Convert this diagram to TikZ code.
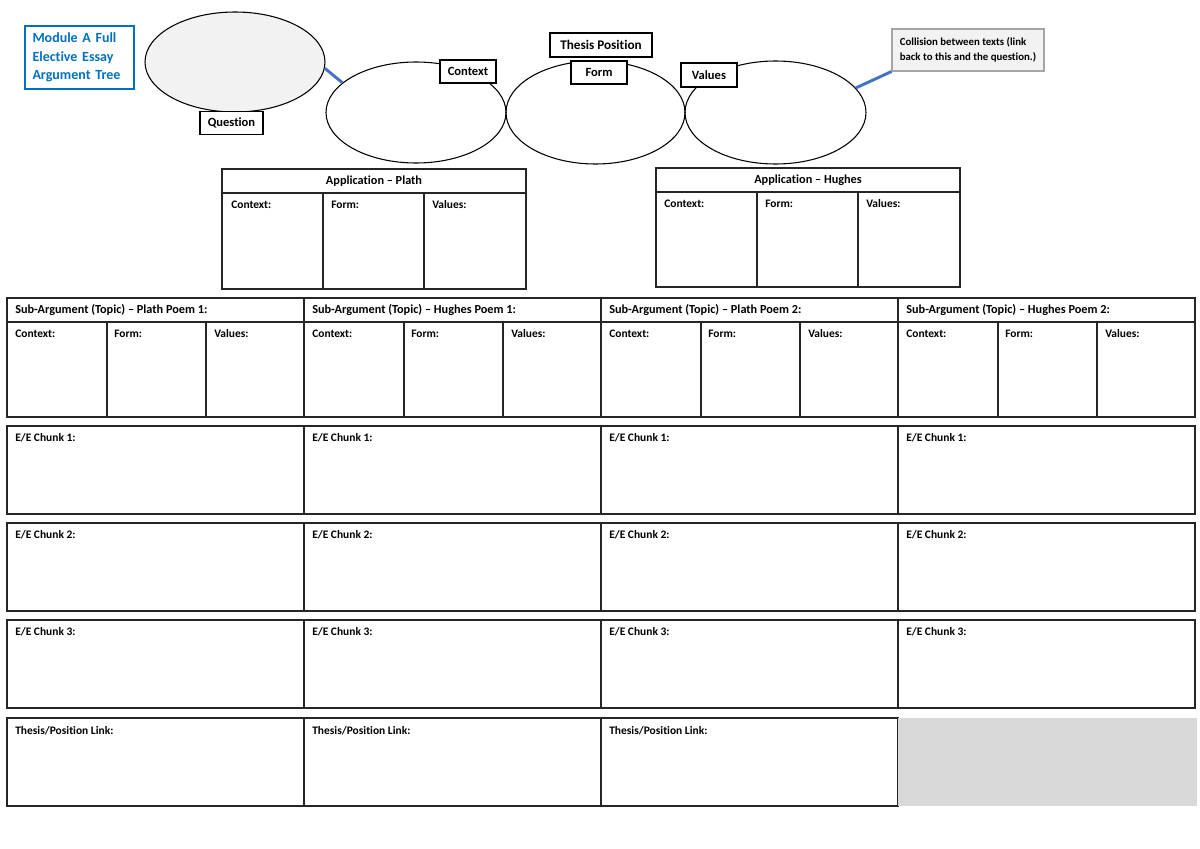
\documentclass[tikz,border=0pt]{standalone}
\usepackage{fontspec}
\setmainfont{Carlito}[Ligatures={NoCommon}]
\usetikzlibrary{shapes.geometric}
\definecolor{titleblue}{HTML}{0070C0}
\definecolor{linkblue}{HTML}{4472C4}
\definecolor{lightfill}{HTML}{F2F2F2}
\definecolor{grayfill}{HTML}{D9D9D9}
\definecolor{tblline}{HTML}{262626}
\definecolor{collborder}{HTML}{A6A6A6}
\newcommand\lblfont{\fontsize{8.6}{10}\selectfont\bfseries}
\newcommand\hdrfont{\fontsize{9.2}{11}\selectfont\bfseries}
\newcommand\boxfont{\fontsize{9.4}{11}\selectfont\bfseries}
\begin{document}
\begin{tikzpicture}[x=0.75pt,y=-0.75pt,
  ell/.style={ellipse, draw, line width=0.8pt, inner sep=0pt},
  lbox/.style={rectangle, draw, fill=white, line width=0.8pt, inner sep=0pt, font=\boxfont},
  link/.style={linkblue, line width=2.2pt},
  tbl/.style={draw=tblline, line width=0.9pt},
  lab/.style={anchor=base west, inner sep=0pt, font=\lblfont},
  hdr/.style={anchor=base west, inner sep=0pt, font=\hdrfont},
  chdr/.style={inner sep=0pt, font=\hdrfont}]
\useasboundingbox (0,0) rectangle (1200,849);
\fill[white] (0,0) rectangle (1200,849);

% title
\node[draw=titleblue, line width=1.5pt, minimum width=109*0.75pt, minimum height=63*0.75pt,
  text width=93*0.75pt, align=left, inner sep=0pt, text=titleblue,
  font=\fontsize{10.5}{14}\selectfont\bfseries] (title) at (79,57.5)
  {Module A Full\\Elective Essay\\Argument Tree};

% ellipses
\node[ell, fill=lightfill, minimum width=180*0.75pt, minimum height=100*0.75pt] (q) at (235,62) {};
\node[ell, minimum width=180*0.75pt, minimum height=101*0.75pt] (ctx) at (416,112.5) {};
\node[ell, minimum width=179*0.75pt, minimum height=103*0.75pt] (form) at (595.5,112.5) {};
\node[ell, minimum width=181*0.75pt, minimum height=103*0.75pt] (val) at (775.5,112.5) {};

% label boxes
\node[lbox, minimum width=63*0.75pt, minimum height=23*0.75pt] (qlab) at (231.5,123) {Question};
\node[lbox, minimum width=56*0.75pt, minimum height=23*0.75pt] (ctxlab) at (468,71.5) {Context};
\node[lbox, minimum width=102*0.75pt, minimum height=24*0.75pt, font=\fontsize{9.9}{11}\selectfont\bfseries] (thesis) at (601,45) {Thesis Position};
\node[lbox, minimum width=56*0.75pt, minimum height=23*0.75pt] (formlab) at (599,72.5) {Form};
\node[lbox, minimum width=56*0.75pt, minimum height=24*0.75pt] (vallab) at (709,75) {Values};
\node[draw=collborder, fill=lightfill, line width=0.8pt, minimum width=152*0.75pt, minimum height=42*0.75pt,
  align=left, inner sep=0pt, font=\fontsize{8.1}{11.3}\selectfont\bfseries] (coll) at (968,50)
  {Collision between texts (link\\back to this and the question.)};

% connectors
\draw[link] (q.-4) -- (ctx.158);
\draw[link] (val.17) -- (coll.south west);

% Application - Plath
\draw[tbl] (222,169) rectangle (526,289);
\draw[tbl] (222,193) -- (526,193);
\draw[tbl] (323,193) -- (323,289);
\draw[tbl] (424,193) -- (424,289);
\node[chdr] (appP) at (374,181) {Application -- Plath};
\node[lab] (appPc) at (231,208) {Context:};
\node[lab] (appPf) at (331,208) {Form:};
\node[lab] (appPv) at (432,208) {Values:};

% Application - Hughes
\draw[tbl] (656,168) rectangle (960,287);
\draw[tbl] (656,192) -- (960,192);
\draw[tbl] (757,192) -- (757,287);
\draw[tbl] (858,192) -- (858,287);
\node[chdr] (appH) at (808,180) {Application -- Hughes};
\node[lab] (appHc) at (664,207) {Context:};
\node[lab] (appHf) at (765,207) {Form:};
\node[lab] (appHv) at (866,207) {Values:};

% Sub-arguments
\foreach \i/\t in {0/Plath Poem 1:, 1/Hughes Poem 1:, 2/Plath Poem 2:, 3/Hughes Poem 2:}{
  \pgfmathsetmacro{\xo}{7+297*\i}
  \draw[tbl] (\xo,298) rectangle ({\xo+297},417);
  \draw[tbl] (\xo,322) -- ({\xo+297},322);
  \draw[tbl] ({\xo+100},322) -- ({\xo+100},417);
  \draw[tbl] ({\xo+199},322) -- ({\xo+199},417);
  \node[hdr] (sub\i) at ({\xo+8},313) {Sub-Argument (Topic) -- \t};
  \node[lab] (sub\i c) at ({\xo+8},337) {Context:};
  \node[lab] (sub\i f) at ({\xo+107},337) {Form:};
  \node[lab] (sub\i v) at ({\xo+207},337) {Values:};
}

% E/E chunks
\foreach \r/\yt in {1/426, 2/523, 3/620}{
  \foreach \i in {0,1,2,3}{
    \pgfmathsetmacro{\xo}{7+297*\i}
    \draw[tbl] (\xo,\yt) rectangle ({\xo+297},{\yt+88});
    \node[lab] (ee\r\i) at ({\xo+8},{\yt+15}) {E/E Chunk \r:};
  }
}

% Thesis/Position link
\foreach \i in {0,1,2}{
  \pgfmathsetmacro{\xo}{7+297*\i}
  \draw[tbl] (\xo,718) rectangle ({\xo+297},806);
  \node[lab] (tp\i) at ({\xo+8},734) {Thesis/Position Link:};
}
\fill[grayfill] (898,718) rectangle (1197,806);
\end{tikzpicture}
\end{document}
